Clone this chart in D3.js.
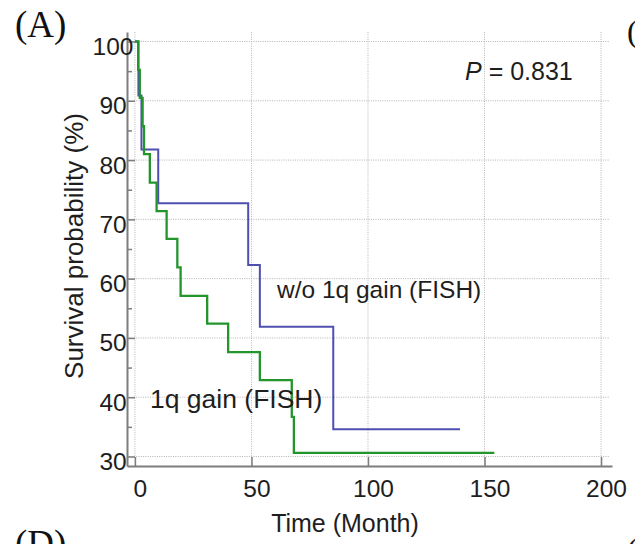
<html><head>
<meta charset="UTF-8">
<title>Survival by 1q gain (FISH)</title>
<script src="https://cdn.jsdelivr.net/npm/d3@7"></script>
<style>
  body { margin: 0; background: #fff; }
  svg { display: block; }
  .axis path, .axis line { stroke: #7d7d7d; }
  .axis text { font-family: "Liberation Sans", Arial, sans-serif; fill: #1e1e1e; }
  .grid line { stroke: #b4b4b4; stroke-width: 1; stroke-dasharray: 1,1.3; }
  .lbl { font-family: "Liberation Sans", Arial, sans-serif; fill: #1e1e1e; }
  .panel { font-family: "Liberation Serif", "Times New Roman", serif; fill: #111; }
</style>
</head>
<body>
<div id="chart"></div>
<script>
// Kaplan-Meier steps (months, %)
const gainTime = [0, 1.4, 2.1, 3.3, 3.9, 6.4, 9.3, 13.6, 18.2, 19.6, 31.0, 40.0, 53.6, 67.3, 68.2, 154.2];
const gainSurv = [100, 95.2, 90.5, 85.7, 81.0, 76.2, 71.4, 66.7, 61.9, 57.1, 52.4, 47.6, 42.9, 36.7, 30.6, 30.6];

const noGainTime = [0, 1.5, 2.8, 10.0, 48.6, 53.6, 85.1, 139.5];
const noGainSurv = [100, 90.9, 81.8, 72.7, 62.3, 51.9, 34.6, 34.6];

const xTicks = [0, 50, 100, 150, 200];
const yTicks = [30, 40, 50, 60, 70, 80, 90, 100];
const yMinor = [35, 45, 55, 65, 75, 85, 95];

const W = 635, H = 544;

const svg = d3.select("#chart").append("svg")
    .attr("width", W)
    .attr("height", H);

const x = d3.scaleLinear().domain([-3.4, 204.7]).range([127, 612]);
const y = d3.scaleLinear().domain([28.4, 101.6]).range([466, 32]);

// grid
const grid = svg.append("g").attr("class", "grid");
grid.selectAll(".gx").data(xTicks).enter().append("line")
    .attr("x1", d => x(d)).attr("x2", d => x(d))
    .attr("y1", y.range()[1]).attr("y2", y.range()[0]);
grid.selectAll(".gy").data(yTicks).enter().append("line")
    .attr("x1", x.range()[0]).attr("x2", 610)
    .attr("y1", d => y(d)).attr("y2", d => y(d));

// axes
const yAxis = svg.append("g")
    .attr("class", "axis")
    .attr("transform", `translate(${x.range()[0]},0)`)
    .call(d3.axisLeft(y).tickValues(yTicks).tickSize(-8).tickSizeOuter(0).tickFormat(d3.format("d")));
yAxis.select(".domain").attr("stroke-width", 2);
yAxis.selectAll(".tick line").attr("stroke-width", 1.5);
yAxis.selectAll(".tick text")
    .attr("x", -14)
    .attr("dy", null)
    .attr("y", 13)
    .attr("text-anchor", "middle")
    .style("font-size", "24.5px");

svg.append("g")
    .attr("class", "axis")
    .attr("transform", `translate(${x.range()[0]},0)`)
    .call(d3.axisLeft(y).tickValues(yMinor).tickSize(-5).tickFormat(""))
    .call(g => g.select(".domain").remove())
    .selectAll(".tick line").attr("stroke-width", 1.5);

const xAxis = svg.append("g")
    .attr("class", "axis")
    .attr("transform", `translate(0,${y.range()[0]})`)
    .call(d3.axisBottom(x).tickValues(xTicks).tickSize(-9).tickSizeOuter(0).tickFormat(d3.format("d")));
xAxis.select(".domain").attr("stroke-width", 2);
xAxis.selectAll(".tick line").attr("stroke-width", 1.5);
xAxis.selectAll(".tick text")
    .attr("dy", null)
    .attr("y", 31)
    .attr("dx", 5)
    .style("font-size", "24.5px");

// curves
const line = d3.line()
    .x(d => x(d[0]))
    .y(d => y(d[1]))
    .curve(d3.curveStepAfter);

svg.append("path")
    .datum(d3.zip(noGainTime, noGainSurv))
    .attr("fill", "none")
    .attr("stroke", "#4f4fb0")
    .attr("stroke-width", 2)
    .attr("d", line);

svg.append("path")
    .datum(d3.zip(gainTime, gainSurv))
    .attr("fill", "none")
    .attr("stroke", "#22952b")
    .attr("stroke-width", 2.3)
    .attr("d", line);

// labels
svg.append("text").attr("class", "lbl")
    .attr("x", 277).attr("y", 298)
    .style("font-size", "24.5px")
    .text("w/o 1q gain (FISH)");

svg.append("text").attr("class", "lbl")
    .attr("x", 150).attr("y", 408)
    .style("font-size", "26.5px")
    .text("1q gain (FISH)");

const pLab = svg.append("text").attr("class", "lbl")
    .attr("x", 465).attr("y", 80)
    .style("font-size", "25px");
pLab.append("tspan").style("font-style", "italic").text("P");
pLab.append("tspan").text(" = 0.831");

svg.append("text").attr("class", "lbl")
    .attr("x", 345).attr("y", 532)
    .attr("text-anchor", "middle")
    .style("font-size", "25px")
    .text("Time (Month)");

svg.append("text").attr("class", "lbl")
    .attr("transform", "translate(83,246) rotate(-90)")
    .attr("text-anchor", "middle")
    .style("font-size", "26px")
    .text("Survival probability (%)");

// panel letters (neighbouring panels are cut off at the edges, as in the source)
svg.append("text").attr("class", "panel")
    .attr("x", 15).attr("y", 37)
    .style("font-size", "37px")
    .text("(A)");
svg.append("text").attr("class", "panel")
    .attr("x", 627).attr("y", 42)
    .style("font-size", "32px")
    .text("(B)");
svg.append("text").attr("class", "panel")
    .attr("x", 15).attr("y", 556)
    .style("font-size", "37px")
    .text("(D)");
svg.append("text").attr("class", "panel")
    .attr("x", 627).attr("y", 560)
    .style("font-size", "32px")
    .text("(E)");
</script>
</body></html>
